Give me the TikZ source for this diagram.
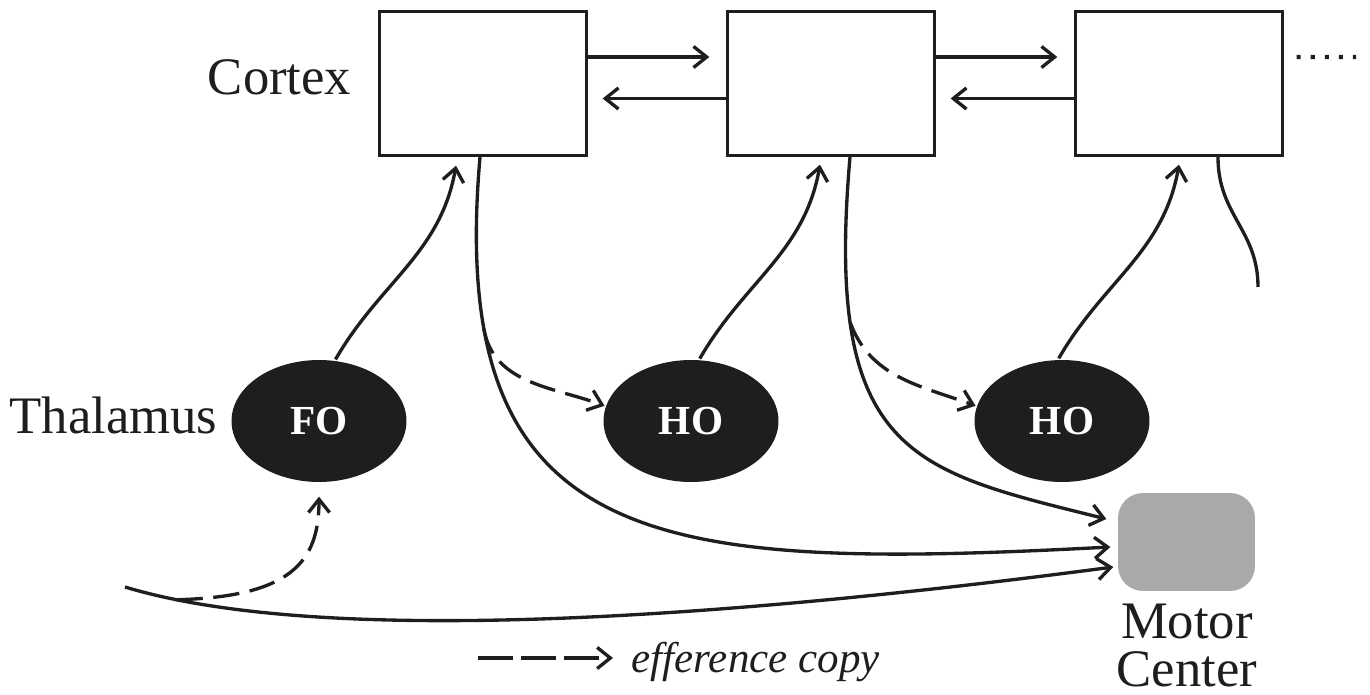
\documentclass[tikz,border=0pt]{standalone}
\usepackage{fontspec}
\setmainfont{Liberation Serif}
\usetikzlibrary{arrows.meta,shapes.geometric}

\definecolor{ink}{HTML}{1E1E1E}
\definecolor{motorgray}{HTML}{A9A9A9}

\begin{document}
\begin{tikzpicture}[x=0.02cm,y=0.02cm,line width=1.9pt,color=ink,
	cortexbox/.style={draw,minimum width=4.14cm,minimum height=2.88cm,inner sep=0},
	nucleus/.style={ellipse,fill=ink,minimum width=3.5cm,minimum height=2.44cm,inner sep=0,
		text=white,font=\fontsize{23.5}{28}\selectfont\bfseries},
	motorbox/.style={rounded corners=0.5cm,fill=motorgray,minimum width=2.74cm,minimum height=1.96cm},
	lbl/.style={inner sep=0,font=\fontsize{30}{27.5}\selectfont},
	arr/.style={-{Straight Barb[length=7.5pt,width=12pt]}},
	efc/.style={arr,dash pattern=on 15pt off 6pt}]

	\useasboundingbox (0,0) rectangle (1370,694);

% cortex %{{{2

	\node[cortexbox] (c1) at (483,610.5) {};
	\node[cortexbox] (c2) at (831,610.5) {};
	\node[cortexbox] (c3) at (1179,610.5) {};

% thalamus %{{{2

	\node[nucleus] (fo) at (319,273) {FO};
	\node[nucleus] (hoA) at (691,273) {HO};
	\node[nucleus] (hoB) at (1062,273) {HO};

% motor center %{{{2

	\node[motorbox] (motor) at (1186.5,152) {};

% labels %{{{2

	\node[lbl,anchor=base east] (cortex) at (353,599) {Cortex};
	\node[lbl,anchor=base east] (thalamus) at (219,260) {Thalamus};
	\node[lbl,align=center,anchor=north] (motorlabel) at (1187,92) {Motor\\Center};

% free ends %{{{2

	\coordinate (c3end) at (1258,407);
	\coordinate (inflow) at (125,107);
	\coordinate (more) at (1356,637);
	\coordinate (lgstart) at (478,36);

% cortico-cortical arrows %{{{2

	\draw[arr] ([yshift=0.53cm]c1.east) -- ([yshift=0.53cm,xshift=-0.33cm]c2.west);
	\draw[arr] ([yshift=-0.3cm]c2.west) -- ([yshift=-0.3cm,xshift=0.29cm]c1.east);
	\draw[arr] ([yshift=0.53cm]c2.east) -- ([yshift=0.53cm,xshift=-0.33cm]c3.west);
	\draw[arr] ([yshift=-0.3cm]c3.west) -- ([yshift=-0.3cm,xshift=0.29cm]c2.east);
	\draw[line width=2.3pt,dash pattern=on 2.3pt off 5.7pt] ([yshift=0.53cm,xshift=0.25cm]c3.east) -- (more);

% thalamo-cortical arrows %{{{2

	\draw[arr] (fo.75) to[out=60,in=-100] ([xshift=-0.54cm,yshift=-0.17cm]c1.south);
	\draw[arr] (hoA.82) to[out=60,in=-100] ([xshift=-0.22cm,yshift=-0.15cm]c2.south);
	\draw[arr] (hoB.93) to[out=60,in=-100] ([yshift=-0.15cm]c3.south);

% cortical output %{{{2

	\draw[arr] ([xshift=-0.06cm]c1.south) .. controls +(-95:8cm) and +(183:9cm) ..
		([xshift=-0.12cm,yshift=-0.1cm]motor.west) coordinate[pos=0.17] (br1);
	\draw[arr] ([xshift=0.38cm]c2.south) .. controls +(-95:6cm) and +(166:4cm) ..
		([xshift=-0.2cm,yshift=0.46cm]motor.west) coordinate[pos=0.23] (br2);
	\draw ([xshift=0.78cm]c3.south) .. controls +(0,-58) and +(0,57) .. (c3end);

% input to motor center %{{{2

	\draw[arr] (inflow) .. controls (300,54) and (650,66) ..
		([xshift=-0.06cm,yshift=-0.5cm]motor.west) coordinate[pos=0.09] (br0);

% efference copies %{{{2

	\draw[efc] (br0) .. controls +(115,3) and +(0,-65) .. ([yshift=-0.26cm]fo.south);
	\draw[efc] (br1) to[out=-80,in=160] (hoA.170);
	\draw[efc] (br2) to[out=-70,in=160] (hoB.170);

% legend %{{{2

	\node[anchor=base west,inner sep=0,font=\fontsize{24.5}{30}\selectfont\itshape] (lgtext) at (630,22) {efference copy};
	\draw[efc,dash pattern=on 20pt off 4.5pt,shorten >=0.34cm] (lgstart) -- (lgstart -| lgtext.west);

\end{tikzpicture}
\end{document}
